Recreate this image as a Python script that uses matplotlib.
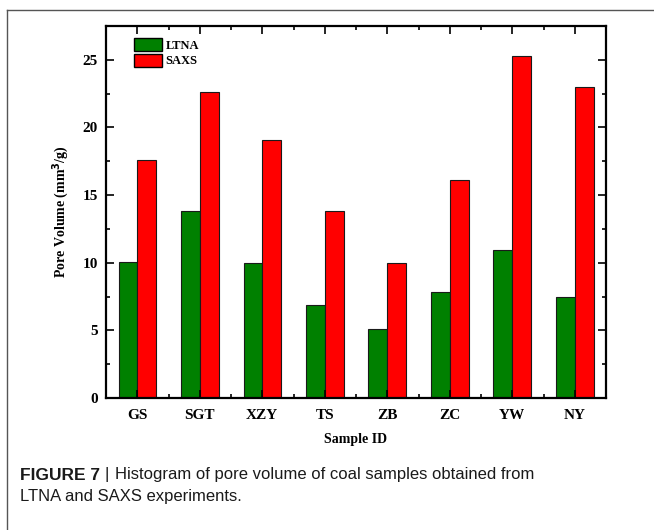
import numpy as np
import matplotlib
matplotlib.use("Agg")
import matplotlib.pyplot as plt
from matplotlib.patches import Patch
from matplotlib.ticker import MultipleLocator, FixedLocator
from matplotlib.lines import Line2D

# ── Data ──────────────────────────────────────────────────────────────────
samples = ["GS", "SGT", "XZY", "TS", "ZB", "ZC", "YW", "NY"]
ltna = [10.05, 13.8, 9.95, 6.85, 5.1, 7.85, 10.95, 7.45]
saxs = [17.6, 22.6, 19.05, 13.85, 10.0, 16.1, 25.3, 23.0]

plt.rcParams["font.family"] = ["Liberation Serif", "DejaVu Serif"]

W, H = 654, 530
fig = plt.figure(figsize=(W / 100, H / 100), dpi=100)

# ── Outer frame (open right/bottom) ──────────────────────────────────────
fig.add_artist(Line2D([7/W, 1.0], [1 - 10/H, 1 - 10/H],
                      transform=fig.transFigure, color="#555555", lw=1.0))
fig.add_artist(Line2D([7/W, 7/W], [0.0, 1 - 10/H],
                      transform=fig.transFigure, color="#555555", lw=1.0))

ax = fig.add_axes([106/W, 1 - 398/H, 500/W, 372/H])

x = np.arange(1, len(samples) + 1)
w = 0.3
ax.bar(x - w/2, ltna, w, color="#008000", edgecolor="#1a1a1a", lw=0.8,
       label="LTNA")
ax.bar(x + w/2, saxs, w, color="#ff0000", edgecolor="#1a1a1a", lw=0.8,
       label="SAXS")

ax.set_xlim(0.5, 8.5)
ax.set_ylim(0, 27.5)
ax.set_xticks(x)
ax.set_xticklabels(samples, fontsize=11, fontweight="bold")
ax.xaxis.set_minor_locator(FixedLocator(np.arange(1.5, 8.5, 1.0)))
ax.yaxis.set_major_locator(MultipleLocator(5))
ax.yaxis.set_minor_locator(MultipleLocator(2.5))
for lbl in ax.get_yticklabels():
    lbl.set_fontweight("bold"); lbl.set_fontsize(11)

# all ticks point inward, mirrored on top/right
ax.tick_params(axis="both", which="both", direction="in", width=1.2,
               top=True, right=True)
ax.tick_params(axis="both", which="major", length=6)
ax.tick_params(axis="both", which="minor", length=3)
ax.tick_params(axis="y", which="major", pad=6)
ax.tick_params(axis="x", which="major", pad=8)

for s in ax.spines.values():
    s.set_linewidth(1.6)

ax.set_xlabel("Sample ID", fontsize=10, fontweight="bold", labelpad=8)
ax.set_ylabel("Pore Volume (mm$\\mathbf{^3}$/g)", fontsize=10,
              fontweight="bold", labelpad=8)

handles = [Patch(facecolor="#008000", edgecolor="black", label="LTNA"),
           Patch(facecolor="#ff0000", edgecolor="black", label="SAXS")]
ax.legend(handles=handles, loc="upper left", frameon=False,
          bbox_to_anchor=(22/500, 1 - 6/372), borderpad=0,
          handlelength=2.2, handleheight=1.25, handletextpad=0.3,
          labelspacing=0.12, prop={"weight": "bold", "size": 9})

# ── Caption ──────────────────────────────────────────────────────────────
cap = dict(family="Liberation Sans", va="center", color="#1a1a1a")
fig.text(20/W, 1 - 475/H, "FIGURE 7", fontsize=12.5, fontweight="bold", **cap)
fig.text(105/W, 1 - 475/H, "|", fontsize=12, **cap)
fig.text(115/W, 1 - 475/H,
         "Histogram of pore volume of coal samples obtained from",
         fontsize=12, **cap)
fig.text(20/W, 1 - 497/H, "LTNA and SAXS experiments.", fontsize=12, **cap)

fig.savefig("out.png", dpi=100)
